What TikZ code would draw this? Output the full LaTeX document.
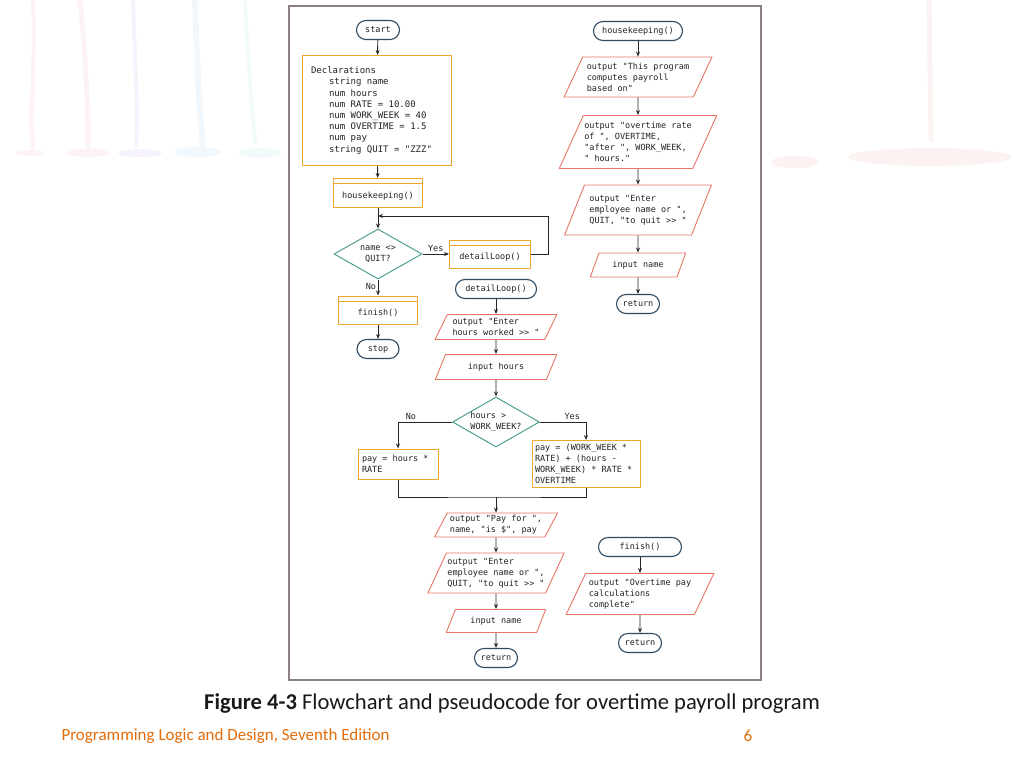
\documentclass[tikz,border=0pt]{standalone}
\usepackage{fontspec}
\setmainfont{Carlito}
\newfontfamily\flowfont{DejaVu Sans Mono}
\usetikzlibrary{shapes.geometric, arrows.meta}
\definecolor{termblue}{HTML}{2E4A62}
\definecolor{procorange}{HTML}{F0A52E}
\definecolor{iored}{HTML}{E77563}
\definecolor{decteal}{HTML}{4E9E92}
\definecolor{framegray}{HTML}{8A807E}
\definecolor{flowtext}{HTML}{222222}
\definecolor{footorange}{HTML}{E36C0A}
\definecolor{drippink}{HTML}{FDF2F8}
\definecolor{dripmauve}{HTML}{F7F2FC}
\definecolor{dripblue}{HTML}{F2F7FC}
\definecolor{dripcyan}{HTML}{F2FAFB}
\definecolor{dripred}{HTML}{FDF2F2}
\newcommand{\declind}{\hspace*{18pt}}
\tikzset{
	flowtxt/.style = {font=\flowfont\fontsize{8.5}{11}\selectfont, text=flowtext},
	termnode/.style = {flowtxt, rectangle, rounded corners=9.5pt, draw=termblue, line width=1.1pt, minimum height=19pt, inner xsep=5pt},
	procbox/.style = {flowtxt, rectangle, draw=procorange, line width=1pt, align=flush left},
	subproc/.style = {flowtxt, rectangle, draw=procorange, line width=1pt, text height=12pt, text depth=1pt,
		path picture={\draw[procorange, line width=1pt] ([yshift=-5pt]path picture bounding box.north west) -- ([yshift=-5pt]path picture bounding box.north east);}},
	iobox/.style = {flowtxt, trapezium, trapezium left angle=60, trapezium right angle=120, trapezium stretches=true, draw=iored, line width=0.9pt, align=flush left, inner sep=1pt},
	decision/.style = {flowtxt, diamond, aspect=1.75, draw=decteal, line width=1pt, inner sep=0pt},
	flow/.style = {draw=black!85, line width=0.9pt, -{Stealth[length=5pt, width=4pt]}},
	flowline/.style = {draw=black!85, line width=0.9pt},
	lbl/.style = {flowtxt, inner sep=1.5pt}
}
\begin{document}
\begin{tikzpicture}[x=1pt, y=-1pt]
	\useasboundingbox (0,0) rectangle (1024,768);
	% faint paint drips in the background
	\begin{scope}[line cap=round]
		\draw[drippink, line width=4pt] (33,0) .. controls (36,60) and (29,110) .. (33,148);
		\draw[drippink, line width=5pt] (80,0) .. controls (86,60) and (88,110) .. (88,148);
		\draw[dripmauve, line width=4pt] (133,0) .. controls (135,60) and (138,110) .. (136,145);
		\draw[dripblue, line width=6pt] (195,0) .. controls (197,60) and (199,110) .. (203,145);
		\draw[dripcyan, line width=4pt] (245,0) .. controls (248,60) and (252,110) .. (255,142);
		\draw[dripred, line width=5pt] (929,0) -- (931,140);
		\fill[drippink] (30,153) ellipse [x radius=14pt, y radius=3pt];
		\fill[drippink] (88,153) ellipse [x radius=22pt, y radius=4pt];
		\fill[dripmauve] (140,153) ellipse [x radius=22pt, y radius=4pt];
		\fill[dripblue] (198,152) ellipse [x radius=24pt, y radius=5pt];
		\fill[dripcyan] (260,153) ellipse [x radius=22pt, y radius=5pt];
		\fill[dripred] (930,157) ellipse [x radius=82pt, y radius=9pt];
		\fill[dripred] (795,162) ellipse [x radius=24pt, y radius=6pt];
	\end{scope}
	\draw[framegray, line width=2pt] (289,6) rectangle (761,680);

	% main program
	\node[termnode, minimum width=43pt] (start) at (378,30) {start};
	\node[procbox, minimum width=149pt, minimum height=110pt, text width=131pt, inner xsep=9pt, font=\flowfont\fontsize{9}{11.2}\selectfont] (decl) at (376.5,110.5)
		{Declarations\\
		\declind string name\\
		\declind num hours\\
		\declind num RATE = 10.00\\
		\declind num WORK\_WEEK = 40\\
		\declind num OVERTIME = 1.5\\
		\declind num pay\\
		\declind string QUIT = "ZZZ"};
	\node[subproc, minimum width=89pt, minimum height=29pt] (hk) at (378,193) {housekeeping()};
	\node[decision, minimum width=88pt, minimum height=50pt, align=flush center] (q1) at (378,254) {name <>\\QUIT?};
	\node[subproc, minimum width=81pt, minimum height=28pt] (dl) at (490,254) {detailLoop()};
	\node[subproc, minimum width=79pt, minimum height=28pt] (fin) at (378,310) {finish()};
	\node[termnode, minimum width=42pt] (stop) at (378,349) {stop};
	\coordinate (loopc) at (548,216);
	\coordinate (looptop) at (378,216);

	\draw[flow] (start) -- (decl);
	\draw[flow] (decl) -- (hk);
	\draw[flow] (hk) -- (q1);
	\draw[flow] (q1) -- node[lbl, above] {Yes} (dl);
	\draw[flow] (q1) -- node[lbl, left, pos=0.45] {No} (fin);
	\draw[flow] (fin) -- (stop);
	\draw[flow] (dl.east) -| (loopc) -- (looptop);

	% detailLoop()
	\node[termnode, minimum width=81pt] (dls) at (496,289) {detailLoop()};
	\node[iobox, minimum width=122pt, minimum height=25pt] (oh) at (496,327) {output "Enter\\hours worked >> "};
	\node[iobox, minimum width=122pt, minimum height=25pt] (ih) at (496,367) {input hours};
	\node[decision, minimum width=87pt, minimum height=50pt, align=flush left] (q2) at (496,422) {hours >\\WORK\_WEEK?};
	\node[procbox, minimum width=80pt, minimum height=30pt, text width=72pt, inner xsep=4pt] (pn) at (398,464) {pay = hours *\\RATE};
	\node[procbox, minimum width=108pt, minimum height=47pt, text width=102pt, inner xsep=3pt] (po) at (586,464)
		{pay = (WORK\_WEEK *\\RATE) + (hours -\\WORK\_WEEK) * RATE *\\OVERTIME};
	\coordinate (mrg) at (496,497);
	\node[iobox, minimum width=123pt, minimum height=24pt] (op) at (496,525) {output "Pay for ",\\name, "is \$", pay};
	\node[iobox, minimum width=135pt, minimum height=40pt] (oe) at (496,573) {output "Enter\\employee name or ",\\QUIT, "to quit >> "};
	\node[iobox, minimum width=100pt, minimum height=23pt] (in1) at (496,621) {input name};
	\node[termnode, minimum width=43pt] (ret1) at (496,658) {return};

	\draw[flow] (dls) -- (oh);
	\draw[flow] (oh) -- (ih);
	\draw[flow] (ih) -- (q2);
	\draw[flow] (q2.west) -| node[lbl, above, pos=0.38] {No} (pn.north);
	\draw[flow] (q2.east) -| node[lbl, above, pos=0.35] {Yes} (po.north);
	\draw[flowline] (pn.south) |- (mrg) -| (po.south);
	\draw[flow] (mrg) -- (op);
	\draw[flow] (op) -- (oe);
	\draw[flow] (oe) -- (in1);
	\draw[flow] (in1) -- (ret1);

	% housekeeping()
	\node[termnode, minimum width=89pt] (hks) at (638,31) {housekeeping()};
	\node[iobox, minimum width=148pt, minimum height=40pt] (o1) at (638,77) {output "This program\\computes payroll\\based on"};
	\node[iobox, minimum width=152pt, minimum height=53pt] (o2) at (638,142) {output "overtime rate\\of ", OVERTIME,\\"after ", WORK\_WEEK,\\" hours."};
	\node[iobox, minimum width=147pt, minimum height=50pt] (o3) at (638,210) {output "Enter\\employee name or ",\\QUIT, "to quit >> "};
	\node[iobox, minimum width=96pt, minimum height=24pt] (in2) at (638,265) {input name};
	\node[termnode, minimum width=43pt] (ret2) at (638,304) {return};

	\draw[flow] (hks) -- (o1);
	\draw[flow] (o1) -- (o2);
	\draw[flow] (o2) -- (o3);
	\draw[flow] (o3) -- (in2);
	\draw[flow] (in2) -- (ret2);

	% finish()
	\node[termnode, minimum width=83pt] (fins) at (640,547) {finish()};
	\node[iobox, minimum width=148pt, minimum height=41pt] (oc) at (640,594) {output "Overtime pay\\calculations\\complete"};
	\node[termnode, minimum width=43pt] (ret3) at (640,643) {return};

	\draw[flow] (fins) -- (oc);
	\draw[flow] (oc) -- (ret3);

	% caption and footer
	\node[font=\fontsize{22.6}{26}\selectfont, text=black!90] (cap) at (512,704) {\textbf{Figure 4-3} Flowchart and pseudocode for overtime payroll program};
	\node[anchor=west, font=\fontsize{17}{20}\selectfont, text=footorange] (foot) at (58,736) {Programming Logic and Design, Seventh Edition};
	\node[font=\fontsize{17}{20}\selectfont, text=footorange] (pnum) at (748,736) {6};
\end{tikzpicture}
\end{document}
